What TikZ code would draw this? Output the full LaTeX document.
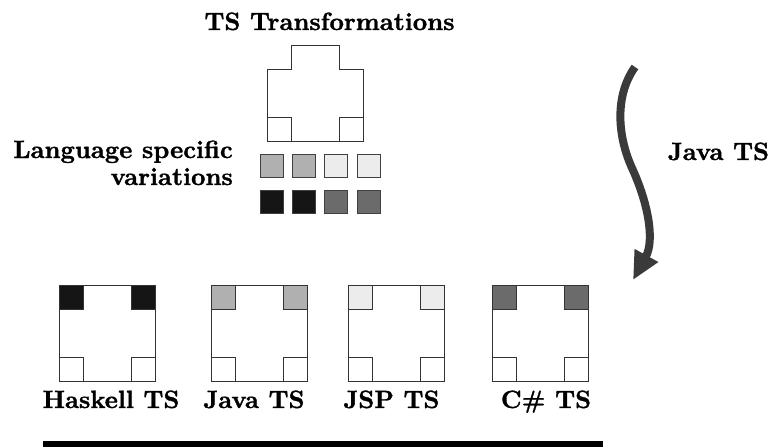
\documentclass[tikz,border=0pt]{standalone}
\usepackage{fontspec}
\newfontfamily\labelfont{lmroman10-bold}[Extension=.otf,FakeBold=1.2]
\usepackage{tikz}
\usetikzlibrary{arrows.meta}

\definecolor{darkcell}{HTML}{151515}
\definecolor{midcell}{HTML}{6B6B6B}
\definecolor{greycell}{HTML}{B0B0B0}
\definecolor{lightcell}{HTML}{ECECEC}
\definecolor{arrowgrey}{HTML}{3A3A3A}

% one language TS: square with two coloured top corners
\newcommand{\tsbox}[3]{%
    \draw[cell] (#1,#2) rectangle ++(96,96);
    \draw[cell,fill=#3] (#1,#2) rectangle ++(24,24);
    \draw[cell,fill=#3] (#1+72,#2) rectangle ++(24,24);
    \draw[cell] (#1,#2+72) rectangle ++(24,24);
    \draw[cell] (#1+72,#2+72) rectangle ++(24,24);
}

\begin{document}
\begin{tikzpicture}[x=1pt,y=-1pt,
    cell/.style={draw=black!80,line width=0.8pt,fill=white},
    patch/.style={draw=black!75,line width=0.8pt},
    label/.style={font=\labelfont\fontsize{25}{27}\selectfont,inner sep=0pt,anchor=base}]
    \useasboundingbox (0,0) rectangle (772,447);

    % Title and generic transformation shape
    \node[label] (title) at (329.5,30) {TS Transformations};
    \draw[cell] (267,69) -- (291,69) -- (291,45) -- (339,45) -- (339,69)
        -- (363,69) -- (363,141) -- (267,141) -- cycle;
    \draw[cell] (267,117) rectangle (291,141);
    \draw[cell] (339,117) rectangle (363,141);

    % Language specific variations
    \node[label,anchor=base east,align=right] (variations) at (233,185)
        {Language specific\\variations};
    \foreach \x/\c in {260/greycell,292/greycell,324/lightcell,357/lightcell}
        \draw[patch,fill=\c] (\x,154) rectangle ++(23,23);
    \foreach \x/\c in {260/darkcell,292/darkcell,324/midcell,357/midcell}
        \draw[patch,fill=\c] (\x,190) rectangle ++(23,23);

    % Arrow to the Java TS
    \coordinate (arrowstart) at (635,67);
    \coordinate (arrowmid) at (632,168);
    \coordinate (arrowend) at (633,280);
    \draw[arrowgrey,line width=8pt,-{Triangle[length=28pt,width=25pt]}]
        (arrowstart) .. controls (615,95) and (617,135) .. (arrowmid)
        .. controls (648,203) and (655,240) .. (arrowend);
    \node[label] (javalabel) at (718.5,160) {Java TS};

    % The four language TS
    \tsbox{59}{285}{darkcell}
    \tsbox{211}{285}{greycell}
    \tsbox{348}{285}{lightcell}
    \tsbox{492}{285}{midcell}

    \node[label] (haskell) at (111,408) {Haskell TS};
    \node[label] (java) at (254,408) {Java TS};
    \node[label] (jsp) at (391.5,408) {JSP TS};
    \node[label] (csharp) at (546,408) {C\# TS};

    % Bar underneath
    \fill (43,441) rectangle (603,447);
\end{tikzpicture}
\end{document}
